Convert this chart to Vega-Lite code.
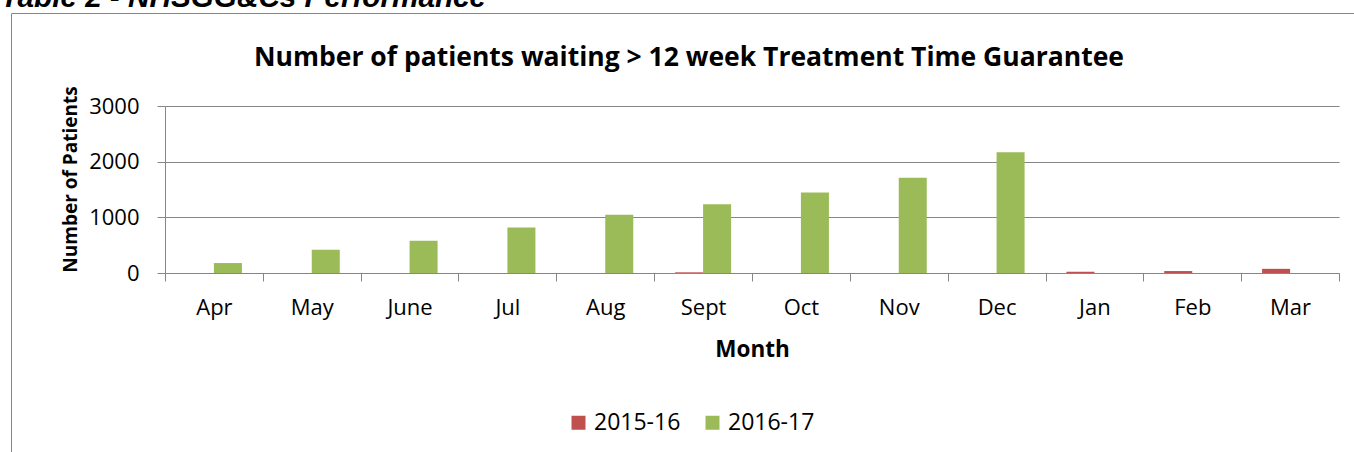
{
  "$schema": "https://vega.github.io/schema/vega-lite/v6.json",
  "autosize": {"type": "pad"},
  "padding": {"left": 0, "top": -18, "right": 0, "bottom": 0},
  "background": "white",
  "title": {"text": "Table 2 - NHSGG&Cs Performance", "anchor": "start", "dx": -10, "offset": -24, "baseline": "alphabetic", "font": "Liberation Sans", "fontSize": 29.7, "fontWeight": "bold", "fontStyle": "italic", "color": "black"},
  "config": {
    "view": {"stroke": "#868686", "strokeWidth": 1},
    "font": "Open Sans",
    "axis": {"labelFont": "Open Sans", "labelFontSize": 22, "labelColor": "black", "titleFont": "Open Sans", "titleFontSize": 21, "titleFontWeight": "bold", "titleColor": "black", "domainColor": "#868686", "tickColor": "#868686", "gridColor": "#868686", "domainWidth": 1, "tickWidth": 1, "gridWidth": 1}
  },
  "vconcat": [{
    "width": 1350,
    "height": 445,
    "title": {"text": "Number of patients waiting > 12 week Treatment Time Guarantee", "fontSize": 26.5, "fontWeight": "bold", "baseline": "alphabetic", "offset": -79, "anchor": "middle", "dx": 3, "color": "black", "font": "Open Sans"},
    "data": {"values": [
      {"month": "Apr", "year": "2015-16", "patients": 0},
      {"month": "May", "year": "2015-16", "patients": 0},
      {"month": "June", "year": "2015-16", "patients": 0},
      {"month": "Jul", "year": "2015-16", "patients": 0},
      {"month": "Aug", "year": "2015-16", "patients": 0},
      {"month": "Sept", "year": "2015-16", "patients": 12},
      {"month": "Oct", "year": "2015-16", "patients": 0},
      {"month": "Nov", "year": "2015-16", "patients": 0},
      {"month": "Dec", "year": "2015-16", "patients": 0},
      {"month": "Jan", "year": "2015-16", "patients": 22},
      {"month": "Feb", "year": "2015-16", "patients": 35},
      {"month": "Mar", "year": "2015-16", "patients": 75},
      {"month": "Apr", "year": "2016-17", "patients": 179},
      {"month": "May", "year": "2016-17", "patients": 418},
      {"month": "June", "year": "2016-17", "patients": 579},
      {"month": "Jul", "year": "2016-17", "patients": 817},
      {"month": "Aug", "year": "2016-17", "patients": 1045},
      {"month": "Sept", "year": "2016-17", "patients": 1237},
      {"month": "Oct", "year": "2016-17", "patients": 1445},
      {"month": "Nov", "year": "2016-17", "patients": 1713},
      {"month": "Dec", "year": "2016-17", "patients": 2168}
    ]},
    "mark": {"type": "bar"},
    "encoding": {
      "x": {
        "field": "month", "type": "nominal",
        "sort": ["Apr", "May", "June", "Jul", "Aug", "Sept", "Oct", "Nov", "Dec", "Jan", "Feb", "Mar"],
        "scale": {"range": [154, 1328], "paddingInner": 0, "paddingOuter": 0},
        "axis": {"title": "Month", "tickBand": "extent", "labelAngle": 0, "offset": -185, "tickSize": 8, "labelPadding": 16, "titlePadding": 20, "titleFontSize": 22.5, "grid": false}
      },
      "xOffset": {"field": "year", "type": "nominal", "scale": {"paddingInner": 0, "paddingOuter": 0.746}},
      "y": {
        "field": "patients", "type": "quantitative",
        "scale": {"domain": [0, 3000], "range": [260, 93], "nice": false},
        "axis": {"title": "Number of Patients", "format": "d", "values": [0, 1000, 2000, 3000], "offset": -154, "tickSize": 8, "labelPadding": 18, "titlePadding": 8, "titleFontSize": 19, "titleY": 166, "grid": true}
      },
      "color": {
        "field": "year", "type": "nominal",
        "scale": {"domain": ["2015-16", "2016-17"], "range": ["#C0504D", "#9BBB59"]},
        "legend": {"title": null, "orient": "none", "legendX": 556, "legendY": 398, "direction": "horizontal", "symbolType": "square", "symbolSize": 196, "symbolStrokeWidth": 0, "symbolOpacity": 1, "labelFont": "Open Sans", "labelFontSize": 23, "labelColor": "black", "labelOffset": 4, "columnPadding": 20, "padding": 0}
      }
    }
  }]
}
